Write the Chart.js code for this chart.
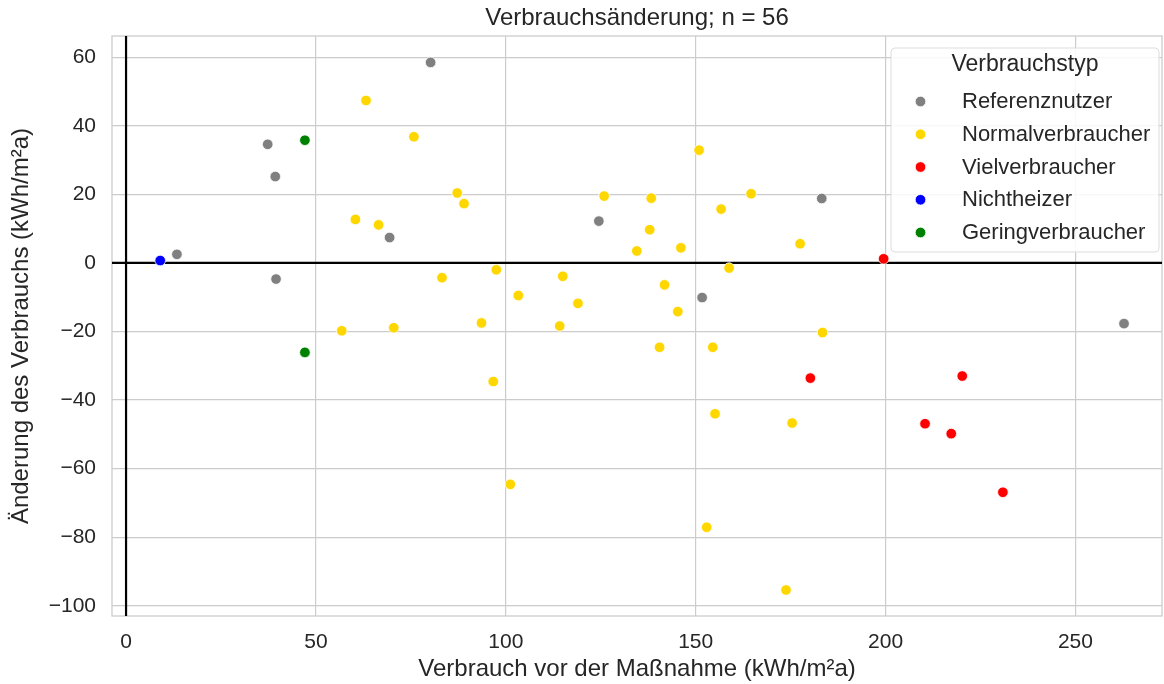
<!DOCTYPE html>
<html>
<head>
<meta charset="utf-8">
<script src="https://cdn.jsdelivr.net/npm/chart.js@4.4.1/dist/chart.umd.min.js"></script>
<style>
  body { margin: 0; background: #fff; }
  #wrap { width: 1164px; height: 684px; }
</style>
</head>
<body>
<div id="wrap"><canvas id="charts__scatter" width="1164" height="684"></canvas></div>
<script>

// categories
var types = ['Referenznutzer', 'Normalverbraucher', 'Vielverbraucher', 'Nichtheizer', 'Geringverbraucher'];

// Verbrauch vor der Maßnahme (x) / Änderung des Verbrauchs (y), per type
var refX = [80.2, 37.3, 39.3, 69.4, 13.4, 39.5, 124.5, 183.2, 151.7, 262.8];
var refY = [58.5, 34.6, 25.2, 7.4, 2.5, -4.7, 12.2, 18.8, -10.1, -17.7];

var normalX = [63.2, 75.8, 87.2, 89.0, 60.4, 66.5, 97.5, 83.2, 150.9, 125.9, 138.3, 164.6,
  156.7, 137.9, 146.1, 134.5, 177.5, 115.0, 158.8, 93.6, 56.8, 70.5, 96.7, 141.8,
  103.3, 119.0, 145.3, 114.2, 183.4, 140.5, 154.5, 155.1, 175.4, 101.2, 152.9, 173.8];
var normalY = [47.4, 36.8, 20.4, 17.3, 12.7, 11.1, -2.0, -4.3, 32.9, 19.5, 18.9, 20.2,
  15.7, 9.7, 4.4, 3.5, 5.6, -3.9, -1.5, -17.5, -19.8, -18.9, -34.6, -6.4,
  -9.5, -11.8, -14.2, -18.4, -20.3, -24.6, -24.6, -44.0, -46.7, -64.6, -77.1, -95.4];

var vielX = [199.5, 180.2, 220.2, 210.4, 217.3, 230.9];
var vielY = [1.2, -33.6, -33.0, -46.9, -49.8, -66.9];

var nichtX = [9.0];
var nichtY = [0.7];

var geringX = [47.1, 47.1];
var geringY = [35.8, -26.1];

// tick labels
var xTicks = [0, 50, 100, 150, 200, 250];
var yTicks = [-100, -80, -60, -40, -20, 0, 20, 40, 60];

var typeColors = ['#808080', '#ffd700', '#ff0000', '#0000ff', '#008000'];

var FONT = '"Liberation Sans", Arial, Helvetica, sans-serif';
var TEXT = '#262626';
var GRID = '#cccccc';


function toPoints(xs, ys) {
  return xs.map(function (x, i) { return { x: x, y: ys[i] }; });
}

var seriesX = [refX, normalX, vielX, nichtX, geringX];
var seriesY = [refY, normalY, vielY, nichtY, geringY];

var datasets = types.map(function (name, i) {
  return {
    label: name,
    data: toPoints(seriesX[i], seriesY[i]),
    backgroundColor: typeColors[i],
    borderColor: '#ffffff',
    borderWidth: 0.8,
    pointRadius: 5.3,
    pointHoverRadius: 5.3
  };
});


// frame + black zero lines, under the points
var zeroLines = {
  id: 'zeroLines',
  beforeDatasetsDraw: function (chart) {
    var ctx = chart.ctx;
    var area = chart.chartArea;
    var x0 = chart.scales.x.getPixelForValue(0);
    var y0 = chart.scales.y.getPixelForValue(0);
    ctx.save();
    ctx.strokeStyle = GRID;
    ctx.lineWidth = 1.3;
    ctx.strokeRect(area.left, area.top, area.right - area.left, area.bottom - area.top);
    ctx.strokeStyle = '#000000';
    ctx.lineWidth = 2.2;
    ctx.beginPath();
    ctx.moveTo(x0, area.top);
    ctx.lineTo(x0, area.bottom);
    ctx.moveTo(area.left, y0);
    ctx.lineTo(area.right, y0);
    ctx.stroke();
    ctx.restore();
  }
};

// title centred over the plot area, legend box inside it
var titleAndLegend = {
  id: 'titleAndLegend',
  afterDraw: function (chart) {
    var ctx = chart.ctx;
    var area = chart.chartArea;
    ctx.save();

    ctx.fillStyle = TEXT;
    ctx.font = '24px ' + FONT;
    ctx.textAlign = 'center';
    ctx.textBaseline = 'alphabetic';
    ctx.fillText('Verbrauchsänderung; n = 56', (area.left + area.right) / 2, 25);

    var w = 268, h = 204;
    var left = area.right - 3 - w;
    var top = area.top + 12;
    ctx.beginPath();
    if (ctx.roundRect) ctx.roundRect(left, top, w, h, 4);
    else ctx.rect(left, top, w, h);
    ctx.fillStyle = 'rgba(255,255,255,0.85)';
    ctx.fill();
    ctx.strokeStyle = '#dddddd';
    ctx.lineWidth = 1;
    ctx.stroke();

    ctx.fillStyle = TEXT;
    ctx.font = '23px ' + FONT;
    ctx.textAlign = 'center';
    ctx.textBaseline = 'middle';
    ctx.fillText('Verbrauchstyp', left + w / 2, top + 17);

    ctx.font = '22px ' + FONT;
    ctx.textAlign = 'left';
    types.forEach(function (name, i) {
      var y = top + 53.5 + i * 32.75;
      ctx.beginPath();
      ctx.arc(left + 29.5, y, 5.3, 0, Math.PI * 2);
      ctx.fillStyle = typeColors[i];
      ctx.fill();
      ctx.strokeStyle = '#ffffff';
      ctx.lineWidth = 0.8;
      ctx.stroke();
      ctx.fillStyle = TEXT;
      ctx.fillText(name, left + 71, y + 0.5);
    });

    ctx.restore();
  }
};


document.addEventListener('DOMContentLoaded', function () {

  var scatter = document.getElementById('charts__scatter').getContext('2d');
  var charts__scatter = new Chart(scatter, {
    type: 'scatter',
    data: { datasets: datasets },
    plugins: [zeroLines, titleAndLegend],
    options: {
      responsive: false,
      animation: false,
      layout: { autoPadding: false, padding: { top: 36, right: 2, bottom: 0, left: 0 } },
      plugins: {
        legend: { display: false },
        title: { display: false },
        tooltip: { enabled: false }
      },
      scales: {
        x: {
          type: 'linear',
          min: -3.7,
          max: 272.8,
          afterBuildTicks: function (scale) {
            scale.ticks = xTicks.map(function (v) { return { value: v }; });
          },
          afterFit: function (scale) { scale.height = 68; },
          grid: { color: GRID, lineWidth: 1.2, drawTicks: false },
          border: { display: false },
          ticks: {
            color: TEXT,
            padding: 14,
            font: { family: FONT, size: 21 }
          },
          title: {
            display: true,
            text: 'Verbrauch vor der Maßnahme (kWh/m²a)',
            color: TEXT,
            font: { family: FONT, size: 24 },
            padding: { top: 0, bottom: 0 }
          }
        },
        y: {
          type: 'linear',
          min: -103,
          max: 66.2,
          afterBuildTicks: function (scale) {
            scale.ticks = yTicks.map(function (v) { return { value: v }; });
          },
          afterFit: function (scale) { scale.width = 112; },
          grid: { color: GRID, lineWidth: 1.2, drawTicks: false },
          border: { display: false },
          ticks: {
            color: TEXT,
            padding: 16,
            font: { family: FONT, size: 21 },
            callback: function (v) { return v < 0 ? '\u2212' + Math.abs(v) : String(v); }
          },
          title: {
            display: true,
            text: 'Änderung des Verbrauchs (kWh/m²a)',
            color: TEXT,
            font: { family: FONT, size: 24 },
            padding: { top: 7, bottom: 0 }
          }
        }
      }
    }
  });

});
</script>
</body>
</html>
